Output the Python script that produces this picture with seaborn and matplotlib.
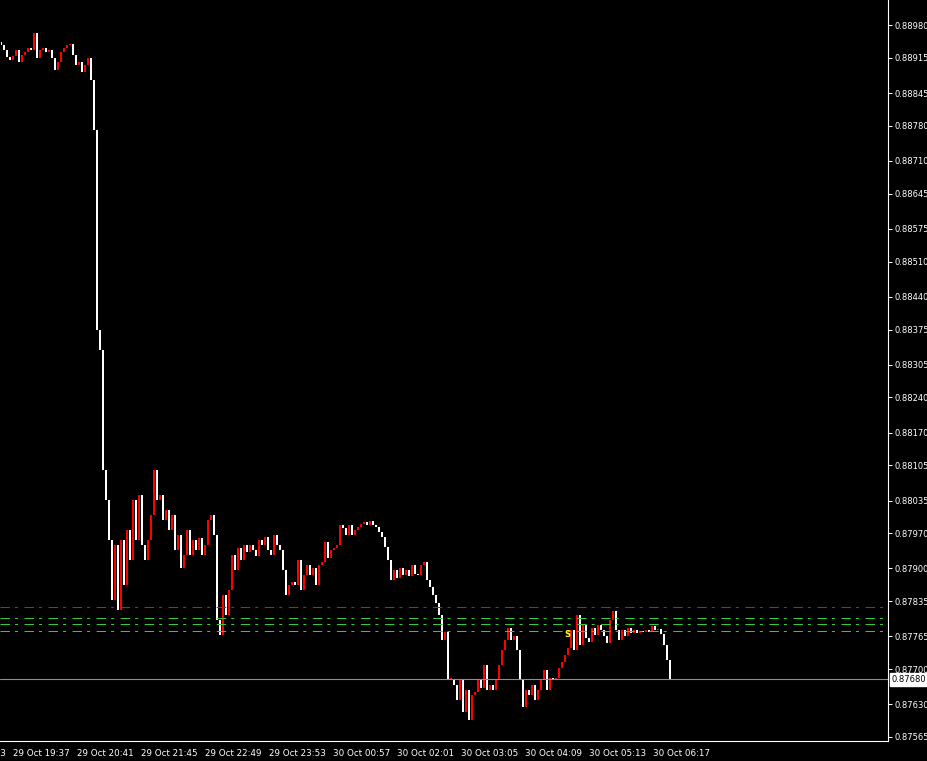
import numpy as np
import pandas as pd
import matplotlib
matplotlib.use("Agg")
import matplotlib.pyplot as plt
import matplotlib.transforms as mtransforms
import seaborn as sns

sns.set_style("dark", {"axes.facecolor": "black", "figure.facecolor": "black",
                       "axes.edgecolor": "white", "text.color": "white",
                       "xtick.color": "white", "ytick.color": "white"})
plt.rcParams["font.family"] = ["DejaVu Sans"]
plt.rcParams["lines.scale_dashes"] = False

# DATA: 3-minute closes, one list per hour (start time in the name)
start_time = "2023-10-29 19:22"
bar_minutes = 3
first_open = 0.88946

c_1922 = [0.88940, 0.88930, 0.88916, 0.88910, 0.88918, 0.88930, 0.88906, 0.88920, 0.88926, 0.88934,
          0.88930, 0.88964, 0.88914, 0.88930, 0.88934, 0.88926, 0.88930, 0.88914, 0.88891, 0.88906]
c_2022 = [0.88926, 0.88934, 0.88940, 0.88942, 0.88920, 0.88901, 0.88906, 0.88887, 0.88901, 0.88914,
          0.88871, 0.88771, 0.88374, 0.88334, 0.88096, 0.88036, 0.87957, 0.87837, 0.87947, 0.87818]
c_2122 = [0.87957, 0.87867, 0.87977, 0.87917, 0.88036, 0.87957, 0.88046, 0.87947, 0.87917, 0.87957,
          0.88006, 0.88096, 0.88036, 0.88046, 0.87996, 0.88016, 0.87977, 0.88006, 0.87937, 0.87967]
c_2222 = [0.87901, 0.87927, 0.87977, 0.87927, 0.87957, 0.87937, 0.87961, 0.87927, 0.87947, 0.87996,
          0.88006, 0.87967, 0.87798, 0.87768, 0.87847, 0.87808, 0.87857, 0.87927, 0.87897, 0.87941]
c_2322 = [0.87917, 0.87947, 0.87933, 0.87947, 0.87937, 0.87925, 0.87957, 0.87947, 0.87963, 0.87937,
          0.87927, 0.87967, 0.87947, 0.87937, 0.87897, 0.87847, 0.87867, 0.87873, 0.87867, 0.87917]
c_0022 = [0.87857, 0.87887, 0.87907, 0.87887, 0.87901, 0.87867, 0.87907, 0.87913, 0.87953, 0.87921,
          0.87937, 0.87941, 0.87947, 0.87986, 0.87980, 0.87967, 0.87986, 0.87967, 0.87977, 0.87982]
c_0122 = [0.87988, 0.87992, 0.87986, 0.87994, 0.87986, 0.87982, 0.87973, 0.87963, 0.87943, 0.87917,
          0.87877, 0.87897, 0.87881, 0.87901, 0.87887, 0.87897, 0.87885, 0.87907, 0.87889, 0.87887]
c_0222 = [0.87907, 0.87913, 0.87877, 0.87863, 0.87847, 0.87832, 0.87808, 0.87758, 0.87774, 0.87680,
          0.87680, 0.87669, 0.87639, 0.87680, 0.87615, 0.87659, 0.87599, 0.87649, 0.87655, 0.87680]
c_0322 = [0.87663, 0.87708, 0.87659, 0.87669, 0.87659, 0.87680, 0.87708, 0.87738, 0.87758, 0.87782,
          0.87758, 0.87766, 0.87738, 0.87680, 0.87625, 0.87659, 0.87649, 0.87669, 0.87639, 0.87659]
c_0422 = [0.87680, 0.87698, 0.87659, 0.87683, 0.87680, 0.87683, 0.87702, 0.87714, 0.87728, 0.87742,
          0.87778, 0.87738, 0.87808, 0.87748, 0.87788, 0.87762, 0.87754, 0.87782, 0.87768, 0.87788]
c_0522 = [0.87778, 0.87766, 0.87752, 0.87798, 0.87816, 0.87778, 0.87758, 0.87778, 0.87766, 0.87782,
          0.87772, 0.87778, 0.87772, 0.87776, 0.87774, 0.87778, 0.87774, 0.87786, 0.87778, 0.87780]
c_0622 = [0.87770, 0.87748, 0.87718, 0.87680]

red_level = 0.87824
green_levels = [0.87802, 0.87790, 0.87776]
last_price = 0.87680
sell_mark_time = "2023-10-30 04:49"
sell_mark_price = 0.87768

y_tick_labels = ["0.88980", "0.88915", "0.88845", "0.88780", "0.88710", "0.88645", "0.88575",
                 "0.88510", "0.88440", "0.88375", "0.88305", "0.88240", "0.88170", "0.88105",
                 "0.88035", "0.87970", "0.87900", "0.87835", "0.87765", "0.87700", "0.87630",
                 "0.87565"]
x_tick_times = ["2023-10-29 18:33", "2023-10-29 19:37", "2023-10-29 20:41", "2023-10-29 21:45",
                "2023-10-29 22:49", "2023-10-29 23:53", "2023-10-30 00:57", "2023-10-30 02:01",
                "2023-10-30 03:05", "2023-10-30 04:09", "2023-10-30 05:13", "2023-10-30 06:17"]

# BUILD CANDLES
closes = np.array(c_1922 + c_2022 + c_2122 + c_2222 + c_2322 + c_0022
                  + c_0122 + c_0222 + c_0322 + c_0422 + c_0522 + c_0622)
opens = np.r_[first_open, closes[:-1]]
t0 = pd.Timestamp(start_time)
x = np.arange(len(closes)) * bar_minutes + bar_minutes / 2
heights = closes - opens
min_h = 0.00002
heights = np.where(np.abs(heights) < min_h, np.where(heights >= 0, min_h, -min_h), heights)
colors = np.where(closes >= opens, "#FF0000", "#FFFFFF")

def to_min(ts):
    return (pd.Timestamp(ts) - t0).total_seconds() / 60

# PLOT
W, H = 928, 761
fig = plt.figure(figsize=(W / 100, H / 100), dpi=100)
ax = fig.add_axes([0, 20 / H, 888 / W, 741 / H])
ax.set_facecolor("black")
ax.grid(False)

dash = (0, (6.8, 3.6, 2.2, 4.7))
ax.axhline(red_level, color="#FF0000", lw=0.75, linestyle=dash)
for lvl in green_levels:
    ax.axhline(lvl, color="#32CD32", lw=0.75, linestyle=dash)

ax.bar(x, heights, bottom=opens, width=2.0, color=colors, linewidth=0)
ax.axhline(last_price, color="#8290A4", lw=0.8)

ax.text(to_min(sell_mark_time), sell_mark_price, "S", color="#FFFF00",
        fontsize=6, ha="center", va="center", fontweight="bold")

for side in ["top", "left"]:
    ax.spines[side].set_visible(False)
for side in ["right", "bottom"]:
    ax.spines[side].set_color("white")
    ax.spines[side].set_linewidth(0.8)

ax.yaxis.tick_right()
ax.set_yticks([float(v) for v in y_tick_labels], y_tick_labels)
ax.tick_params(axis="y", colors="white", length=3, width=0.75, labelsize=6, pad=2)

tick_x = [to_min(t) for t in x_tick_times]
tick_text = [pd.Timestamp(t).strftime("%d %b %H:%M") for t in x_tick_times]
ax.set_xticks(tick_x, tick_text)
ax.tick_params(axis="x", colors="white", length=4, width=0.75, labelsize=6.3, pad=1.5)
offset = mtransforms.ScaledTranslation(-2 / 100, 0, fig.dpi_scale_trans)
for lab in ax.get_xticklabels():
    lab.set_horizontalalignment("left")
    lab.set_transform(lab.get_transform() + offset)

# limits after the ticks, so the ticks do not widen the view
ax.set_xlim(0, 888)
ax.set_ylim(0.87557, 0.89030)

# first time label sits left of the view and is only partly visible
lab0 = ax.get_xticklabels()[1]
ax.text(tick_x[0], 0, tick_text[0], color="white", fontsize=6.3, ha="left", va="top",
        transform=mtransforms.blended_transform_factory(ax.transData, ax.transAxes)
        + mtransforms.ScaledTranslation(-2 / 100, -7.5 / 100, fig.dpi_scale_trans),
        clip_on=False)

price_tr = mtransforms.blended_transform_factory(ax.transAxes, ax.transData)
ax.text(1.0 + 4 / 888, last_price, f"{last_price:.5f}", transform=price_tr,
        color="black", fontsize=6, ha="left", va="center", clip_on=False,
        bbox=dict(boxstyle="square,pad=0.25", fc="white", ec="white"))

fig.savefig("out.png", dpi=100, facecolor="black")
plt.close(fig)
